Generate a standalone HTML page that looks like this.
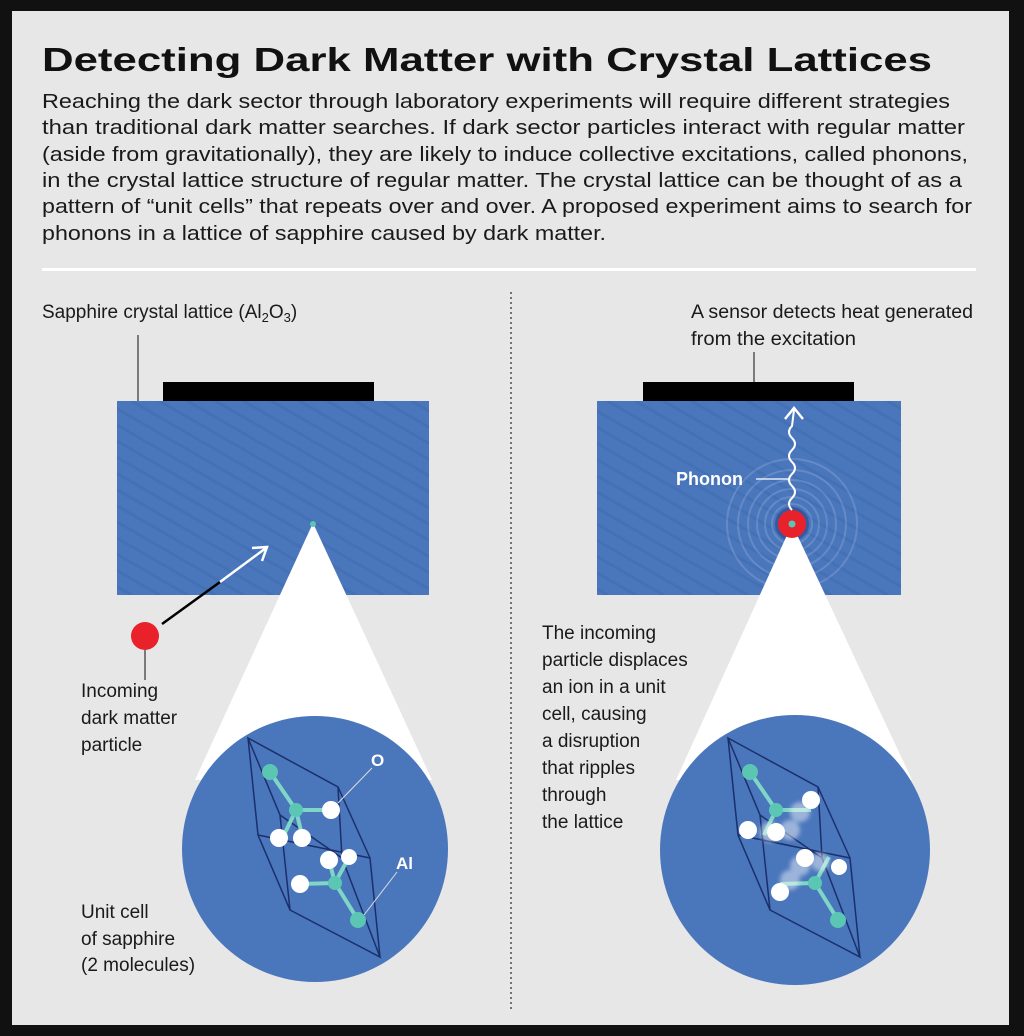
<!DOCTYPE html>
<html><head><meta charset="utf-8"><style>
html,body{margin:0;padding:0;background:#111;}
svg{display:block;}
text{font-family:"Liberation Sans",sans-serif;}
</style></head><body>
<svg width="1024" height="1036" viewBox="0 0 1024 1036" xmlns="http://www.w3.org/2000/svg">
<defs>
<pattern id="tex" width="14" height="14" patternUnits="userSpaceOnUse" patternTransform="rotate(30)">
<rect width="14" height="14" fill="#4a76bc"/>
<rect width="14" height="3" fill="#4470b6"/>
</pattern>
<filter id="bl"><feGaussianBlur stdDeviation="2"/></filter>
</defs>
<rect x="0" y="0" width="1024" height="1036" fill="#111"/>
<rect x="12" y="11" width="997" height="1014" fill="#e6e7e6"/>
<text x="42" y="71" font-size="33" font-weight="bold" fill="#111" textLength="890" lengthAdjust="spacingAndGlyphs">Detecting Dark Matter with Crystal Lattices</text>
<g font-size="20.5" fill="#1a1a1a">
<text x="42" y="108" textLength="908" lengthAdjust="spacingAndGlyphs">Reaching the dark sector through laboratory experiments will require different strategies</text>
<text x="42" y="134" textLength="923" lengthAdjust="spacingAndGlyphs">than traditional dark matter searches. If dark sector particles interact with regular matter</text>
<text x="42" y="161" textLength="926" lengthAdjust="spacingAndGlyphs">(aside from gravitationally), they are likely to induce collective excitations, called phonons,</text>
<text x="42" y="187" textLength="920" lengthAdjust="spacingAndGlyphs">in the crystal lattice structure of regular matter. The crystal lattice can be thought of as a</text>
<text x="42" y="213" textLength="930" lengthAdjust="spacingAndGlyphs">pattern of “unit cells” that repeats over and over. A proposed experiment aims to search for</text>
<text x="42" y="240" textLength="564" lengthAdjust="spacingAndGlyphs">phonons in a lattice of sapphire caused by dark matter.</text>
</g>
<rect x="42" y="268" width="934" height="3" fill="#fff"/>
<line x1="511" y1="292" x2="511" y2="1012" stroke="#333" stroke-width="1.3" stroke-dasharray="2,3"/>

<g font-size="19" fill="#1a1a1a">
<text x="42" y="318">Sapphire crystal lattice (Al<tspan font-size="13" dy="4">2</tspan><tspan dy="-4">O</tspan><tspan font-size="13" dy="4">3</tspan><tspan dy="-4">)</tspan></text>
<text x="691" y="318" textLength="282" lengthAdjust="spacingAndGlyphs">A sensor detects heat generated</text>
<text x="691" y="345" textLength="165" lengthAdjust="spacingAndGlyphs">from the excitation</text>
<text x="81" y="697">Incoming</text>
<text x="81" y="724">dark matter</text>
<text x="81" y="751">particle</text>
<text x="81" y="918">Unit cell</text>
<text x="81" y="945">of sapphire</text>
<text x="81" y="971">(2 molecules)</text>
<text x="542" y="639">The incoming</text>
<text x="542" y="666">particle displaces</text>
<text x="542" y="693">an ion in a unit</text>
<text x="542" y="720">cell, causing</text>
<text x="542" y="747">a disruption</text>
<text x="542" y="774">that ripples</text>
<text x="542" y="801">through</text>
<text x="542" y="828">the lattice</text>
</g>
<line x1="138" y1="335" x2="138" y2="401" stroke="#333" stroke-width="1.2"/>
<line x1="754" y1="352" x2="754" y2="382" stroke="#333" stroke-width="1.2"/>

<rect x="163" y="382" width="211" height="19" fill="#000"/>
<rect x="117" y="401" width="312" height="194" fill="url(#tex)"/>
<polygon points="313,523 432,780 195,780" fill="#fff"/>
<circle cx="315" cy="849" r="133" fill="#4a76bc"/>
<circle cx="313" cy="524" r="3" fill="#5cc6b4"/>
<line x1="162" y1="624" x2="220" y2="582" stroke="#000" stroke-width="2.5"/>
<line x1="220" y1="582" x2="266" y2="548" stroke="#fff" stroke-width="2.5"/>
<polyline points="252,548 267,547 262,561" fill="none" stroke="#fff" stroke-width="2.5"/>
<line x1="145" y1="650" x2="145" y2="680" stroke="#333" stroke-width="1.2"/>
<circle cx="145" cy="636" r="14" fill="#e8212a"/>

<rect x="643" y="382" width="211" height="19" fill="#000"/>
<rect x="597" y="401" width="304" height="194" fill="url(#tex)"/>
<g fill="none" stroke="#fff" stroke-opacity="0.15" stroke-width="2">
<circle cx="792" cy="524" r="20"/><circle cx="792" cy="524" r="27"/><circle cx="792" cy="524" r="35"/><circle cx="792" cy="524" r="44"/><circle cx="792" cy="524" r="54"/><circle cx="792" cy="524" r="65"/>
</g>
<circle cx="792" cy="524" r="17" fill="#1e3f86" opacity="0.5"/>
<polygon points="792,524 912,780 676,780" fill="#fff"/>
<circle cx="795" cy="850" r="135" fill="#4a76bc"/>
<circle cx="792" cy="524" r="14" fill="#e8212a"/>
<circle cx="792" cy="524" r="3.5" fill="#5cc6b4"/>
<path d="M792,510 q-6,-6 0,-12 q6,-6 0,-12 q-6,-6 0,-12 q6,-6 0,-12 q-6,-6 0,-12 q6,-6 0,-12 q-6,-6 0,-12 L794,410" fill="none" stroke="#fff" stroke-width="2"/>
<polyline points="785,419 794,408 803,419" fill="none" stroke="#fff" stroke-width="2.5"/>
<line x1="756" y1="479" x2="790" y2="479" stroke="#fff" stroke-width="1.3"/>
<text x="676" y="485" font-size="18" font-weight="bold" fill="#fff">Phonon</text>

<g id="lat">
<g stroke="#1b2f6b" stroke-width="1.5" fill="none">
<polygon points="248,738 338,787 342,858 380,957 290,910 258,835"/>
<line x1="248" y1="738" x2="280" y2="815"/>
<line x1="280" y1="815" x2="290" y2="910"/>
<line x1="258" y1="835" x2="370" y2="858"/>
<line x1="280" y1="815" x2="342" y2="858"/>
<line x1="370" y1="858" x2="380" y2="957"/>
<line x1="338" y1="787" x2="370" y2="858"/>
</g>
</g>
<g stroke="#7fd6c6" stroke-width="4">
<line x1="270" y1="772" x2="296" y2="810"/><line x1="296" y1="810" x2="331" y2="810"/><line x1="296" y1="810" x2="284" y2="835"/><line x1="296" y1="810" x2="302" y2="835"/>
<line x1="335" y1="883" x2="300" y2="884"/><line x1="335" y1="883" x2="358" y2="920"/><line x1="335" y1="883" x2="349" y2="857"/><line x1="335" y1="883" x2="329" y2="860"/>
</g>
<g fill="#fff"><circle cx="331" cy="810" r="9"/><circle cx="279" cy="838" r="9"/><circle cx="302" cy="838" r="9"/><circle cx="329" cy="860" r="9"/><circle cx="349" cy="857" r="8"/><circle cx="300" cy="884" r="9"/></g>
<g fill="#5cc6b4"><circle cx="270" cy="772" r="8"/><circle cx="296" cy="810" r="7"/><circle cx="335" cy="883" r="7"/><circle cx="358" cy="920" r="8"/></g>
<line x1="338" y1="803" x2="372" y2="768" stroke="#ddd" stroke-width="1"/>
<line x1="364" y1="915" x2="397" y2="872" stroke="#ddd" stroke-width="1"/>
<text x="371" y="766" font-size="17" font-weight="bold" fill="#fff">O</text>
<text x="396" y="869" font-size="17" font-weight="bold" fill="#fff">Al</text>

<g transform="translate(480,0)">
<use href="#lat"/>
<g stroke="#7fd6c6" stroke-width="4">
<line x1="270" y1="772" x2="296" y2="810"/><line x1="296" y1="810" x2="331" y2="810"/><line x1="296" y1="810" x2="284" y2="835"/>
<line x1="335" y1="883" x2="300" y2="884"/><line x1="335" y1="883" x2="358" y2="920"/><line x1="335" y1="883" x2="349" y2="857"/>
</g>
<g fill="#fff" opacity="0.45" filter="url(#bl)"><circle cx="320" cy="812" r="10"/><circle cx="290" cy="832" r="10"/><circle cx="310" cy="830" r="10"/><circle cx="320" cy="866" r="10"/><circle cx="340" cy="862" r="9"/><circle cx="310" cy="880" r="10"/></g>
<g fill="#fff"><circle cx="331" cy="800" r="9"/><circle cx="268" cy="830" r="9"/><circle cx="296" cy="832" r="9"/><circle cx="325" cy="858" r="9"/><circle cx="359" cy="867" r="8"/><circle cx="300" cy="892" r="9"/></g>
<g fill="#5cc6b4"><circle cx="270" cy="772" r="8"/><circle cx="296" cy="810" r="7"/><circle cx="335" cy="883" r="7"/><circle cx="358" cy="920" r="8"/></g>
</g>
</svg>
</body></html>
